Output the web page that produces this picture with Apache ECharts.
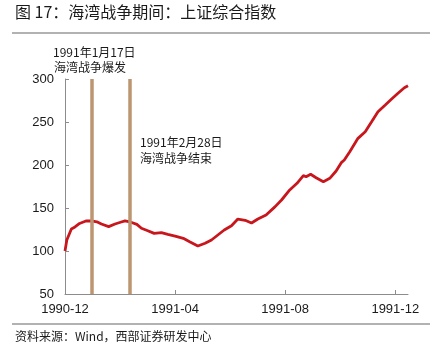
<!DOCTYPE html>
<html><head><meta charset="utf-8">
<script src="https://cdn.jsdelivr.net/npm/echarts@6/dist/echarts.min.js"></script>
<style>html,body{margin:0;padding:0;background:#fff}#c{width:438px;height:360px}</style>
</head><body><div id="c"></div>
<script>
const dates = ['1990-12-19','1990-12-21','1990-12-26','1990-12-30','1991-01-04','1991-01-11','1991-01-17','1991-01-23','1991-01-28','1991-02-05','1991-02-12','1991-02-18','1991-02-23','1991-02-28','1991-03-08','1991-03-13','1991-03-20','1991-03-27','1991-04-04','1991-04-11','1991-04-19','1991-04-28','1991-05-05','1991-05-14','1991-05-22','1991-05-29','1991-06-05','1991-06-12','1991-06-20','1991-06-27','1991-07-05','1991-07-12','1991-07-19','1991-07-28','1991-08-07','1991-08-14','1991-08-23','1991-08-31','1991-09-07','1991-09-10','1991-09-15','1991-09-21','1991-09-29','1991-10-06','1991-10-13','1991-10-19','1991-10-22','1991-10-28','1991-11-06','1991-11-14','1991-11-21','1991-11-28','1991-12-06','1991-12-13','1991-12-20','1991-12-27','1991-12-31'];
const values = [100,112.8,125.6,128,132,134.9,135,134,131.4,128.3,131.4,133.4,135,134,131,126.4,123.6,120.5,121.3,119.4,117.4,114.7,110.8,105.8,109,112.8,118.6,124.4,129.4,137.2,135.7,132.5,137.2,141.9,151.6,159.3,171,178.7,187.6,186.4,189.2,185.2,180.6,184.5,193,203.1,205.8,215.5,231,238.7,250.3,262,269.8,276.7,283.4,289.9,292.2];
const xTickDates = ['1990-12-19','1991-04-19','1991-08-18','1991-12-17'];
const eventDates = ['1991-01-17','1991-02-28'];
const eventLabels = [['1991年1月17日','海湾战争爆发'],['1991年2月28日','海湾战争结束']];
const yTicks = [50,100,150,200,250,300];

const ts = s => { const p = s.split('-').map(Number); return new Date(p[0], p[1]-1, p[2]).getTime(); };
const chart = echarts.init(document.getElementById('c'), null, {renderer:'canvas'});
const axisCol = '#8c8c8c';
const txt = '#1a1a1a';
const cjk = '"Noto Sans CJK SC", sans-serif';
const lat = '"Liberation Sans", Arial, sans-serif';

chart.setOption({
  animation:false,
  backgroundColor:'#fff',
  grid:{left:65, right:30, top:79, bottom:66},
  xAxis:{
    type:'value', min:ts(dates[0]), max:ts(dates[dates.length-1]), scale:true,
    axisLine:{show:true, lineStyle:{color:axisCol, width:1}},
    axisTick:{show:true, inside:true, length:4, lineStyle:{color:axisCol}, customValues:xTickDates.map(ts)},
    axisLabel:{color:txt, fontSize:13, fontFamily:lat, margin:9, customValues:xTickDates.map(ts),
      formatter:v=>{const d=new Date(v);return d.getFullYear()+'-'+String(d.getMonth()+1).padStart(2,'0');}},
    splitLine:{show:false}
  },
  yAxis:{
    type:'value', min:yTicks[0], max:yTicks[yTicks.length-1], interval:50,
    axisLine:{show:true, lineStyle:{color:axisCol, width:1}},
    axisTick:{show:true, inside:true, length:4, lineStyle:{color:axisCol}},
    axisLabel:{color:txt, fontSize:13, fontFamily:lat, margin:11},
    splitLine:{show:false}
  },
  series:[{
    type:'line', data:dates.map((d,i)=>[ts(d), values[i]]), showSymbol:false, symbol:'none',
    lineStyle:{color:'#C8161D', width:2.8}, z:3,
    markLine:{silent:true, symbol:['none','none'], label:{show:false},
      lineStyle:{color:'#BC9670', width:3.5, type:'solid'},
      data:eventDates.map(d=>({xAxis:ts(d)}))}
  }],
  graphic:[
    {type:'text', left:15, top:4, style:{text:'图 17：海湾战争期间：上证综合指数', font:'16px '+cjk, fill:txt}},
    {type:'line', shape:{x1:12,y1:33,x2:430,y2:33}, style:{stroke:'#666', lineWidth:1.2}},
    {type:'line', shape:{x1:12,y1:324,x2:430,y2:324}, style:{stroke:'#666', lineWidth:1.2}},
    {type:'text', left:15, top:330, style:{text:'资料来源：Wind，西部证券研发中心', font:'12px '+cjk, fill:txt}},
    {type:'text', left:53, top:46, style:{text:eventLabels[0][0], font:'12px '+cjk, fill:txt}},
    {type:'text', left:54, top:61, style:{text:eventLabels[0][1], font:'12px '+cjk, fill:txt}},
    {type:'text', left:140, top:136, style:{text:eventLabels[1][0], font:'12px '+cjk, fill:txt}},
    {type:'text', left:140, top:152, style:{text:eventLabels[1][1], font:'12px '+cjk, fill:txt}}
  ]
});
</script></body></html>
